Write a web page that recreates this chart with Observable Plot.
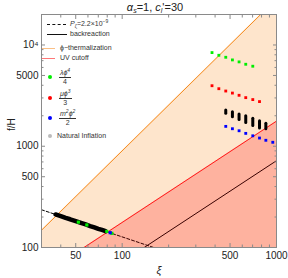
<!DOCTYPE html>
<html><head><meta charset="utf-8">
<script src="https://cdn.jsdelivr.net/npm/d3@7"></script>
<script src="https://cdn.jsdelivr.net/npm/@observablehq/plot@0.6"></script>
<style>
body{margin:0;background:#fff;font-family:"Liberation Sans",Arial,sans-serif;}
#wrap{position:relative;width:288px;height:278px;}
#title{position:absolute;top:1px;left:0;width:288px;text-align:center;padding-left:22px;box-sizing:border-box;font-size:11px;line-height:12px;color:#222;}
.lg{position:absolute;font-size:7px;color:#333;white-space:nowrap;line-height:8px;}
.up{position:relative;top:-3px;font-size:5px;line-height:0;}
.dn{position:relative;top:2px;font-size:5px;line-height:0;}
.frac{display:inline-flex;flex-direction:column;align-items:center;font-size:7px;line-height:8px;}
.frac .n{border-bottom:0.8px solid #333;padding:0 1px;font-style:italic;line-height:8px;}
.dot{position:absolute;width:4px;height:4px;border-radius:2px;}
.ln{position:absolute;height:0;}
</style></head>
<body><div id="wrap"></div>
<script>
// axis ticks
const xiTicks = [50, 100, 500, 1000];
const xiMinor = [30,40,60,70,80,90,200,300,400,600,700,800,900];
const fTicks = [100, 500, 1000, 5000, 10000];
const fMinor = [200,300,400,600,700,800,900,2000,3000,4000,6000,7000,8000,9000,20000];

// boundary lines [xi, f]
const thermalization = [[30, 148], [1000, 28500]];
const uvCutoff = [[30, 53], [1000, 1770]];
const backreaction = [[30, 21.6], [1000, 720]];
const powerSpectrum = [[30, 236], [160, 100]];

// model points
const quarticXi = [382, 423, 469, 518, 572, 632, 702];
const quarticF = [8410, 7910, 7560, 7120, 6810, 6450, 6170];
const cubicXi = [382, 423, 469, 518, 572, 632, 702, 776];
const cubicF = [3960, 3700, 3510, 3350, 3185, 3020, 2890, 2760];
const quadXi = [469, 518, 572, 632, 702, 776, 853, 946];
const quadF = [1571, 1489, 1422, 1340, 1268, 1205, 1145, 1094];
const brXi = [469, 518, 572, 632, 702, 776, 853];
const brLo = [2088, 1938, 1812, 1692, 1582, 1500, 1468];
const brHi = [2254, 2169, 2059, 1982, 1866, 1770, 1666];
// low-xi cluster along P_zeta line
const clusterXi = [37, 40, 43, 46, 50, 54, 58, 62, 66, 70, 74, 78];
const clusterF = [212, 204, 196, 190, 182, 175, 169, 163, 158, 153, 149, 145];
const clusterGreenXi = [52, 59, 79.5, 85.7];
const clusterGreenF = [178, 167, 144, 138];
const clusterBlueXi = [83.6];
const clusterBlueF = [140];

const zip = (a, b) => a.map((v, i) => ({x: v, y: b[i]}));
const bars = brXi.map((v, i) => ({x: v, y1: brLo[i], y2: brHi[i]}));
const seg = arr => arr.map(([x, y]) => ({x, y}));

const fmtY = d => d === 10000 ? "10\u2074" : String(d);
const frameCol = "#8a8a8a";

const plot = Plot.plot({
  width: 288, height: 278,
  marginLeft: 41, marginRight: 12, marginTop: 14, marginBottom: 31,
  style: {fontFamily: "Liberation Sans, Arial, sans-serif", fontSize: "10px", color: "#222", background: "transparent"},
  x: {type: "log", domain: [30, 1000]},
  y: {type: "log", domain: [100, 20000]},
  marks: [
    Plot.areaY(seg(thermalization), {x: "x", y1: 1, y2: "y", fill: "#fee5cc", clip: true}),
    Plot.line(seg(backreaction), {x: "x", y: "y", stroke: "black", strokeWidth: 1, clip: true}),
    Plot.line(seg(powerSpectrum), {x: "x", y: "y", stroke: "black", strokeWidth: 1, strokeDasharray: "3,2", clip: true}),
    Plot.areaY(seg(uvCutoff), {x: "x", y1: 1, y2: "y", fill: "red", fillOpacity: 0.22, clip: true}),
    Plot.line(seg(uvCutoff), {x: "x", y: "y", stroke: "#ff1a1a", strokeWidth: 1, clip: true}),
    Plot.line(seg(thermalization), {x: "x", y: "y", stroke: "#f58b1f", strokeWidth: 1, clip: true}),
    Plot.line(zip(clusterXi, clusterF), {x: "x", y: "y", stroke: "black", strokeWidth: 4.5, strokeLinecap: "round"}),
    Plot.dot(zip(clusterGreenXi, clusterGreenF), {x: "x", y: "y", r: 1.8, fill: "#00ee00", symbol: "square"}),
    Plot.dot(zip(clusterBlueXi, clusterBlueF), {x: "x", y: "y", r: 1.8, fill: "#0000ff", symbol: "square"}),
    Plot.dot(zip(quarticXi, quarticF), {x: "x", y: "y", r: 1.6, fill: "#00ee00", symbol: "square"}),
    Plot.dot(zip(cubicXi, cubicF), {x: "x", y: "y", r: 1.6, fill: "#ff0000", symbol: "square"}),
    Plot.dot(zip(quadXi, quadF), {x: "x", y: "y", r: 1.6, fill: "#0000ff", symbol: "square"}),
    Plot.ruleX(bars, {x: "x", y1: "y1", y2: "y2", stroke: "black", strokeWidth: 3, strokeLinecap: "round"}),
    Plot.frame({stroke: frameCol}),
    Plot.axisX({ticks: xiTicks, tickSize: 0, tickPadding: 4, tickFormat: d => String(d), label: null, anchor: "bottom"}),
    Plot.axisX({ticks: xiTicks, tickSize: -4, text: null, label: null, anchor: "bottom", stroke: frameCol}),
    Plot.axisX({ticks: xiMinor, tickSize: -2.5, text: null, label: null, anchor: "bottom", stroke: frameCol}),
    Plot.axisX({ticks: xiTicks, tickSize: -4, text: null, label: null, anchor: "top", stroke: frameCol}),
    Plot.axisX({ticks: xiMinor, tickSize: -2.5, text: null, label: null, anchor: "top", stroke: frameCol}),
    Plot.axisY({ticks: fTicks, tickSize: 0, tickPadding: 3, tickFormat: fmtY, label: null, anchor: "left"}),
    Plot.axisY({ticks: fTicks, tickSize: -4, text: null, label: null, anchor: "left", stroke: frameCol}),
    Plot.axisY({ticks: fMinor, tickSize: -2.5, text: null, label: null, anchor: "left", stroke: frameCol}),
    Plot.axisY({ticks: fTicks, tickSize: -4, text: null, label: null, anchor: "right", stroke: frameCol}),
    Plot.axisY({ticks: fMinor, tickSize: -2.5, text: null, label: null, anchor: "right", stroke: frameCol}),
    Plot.text(["ξ"], {frameAnchor: "bottom", dy: 26, fontStyle: "italic", fontSize: 11}),
    Plot.text(["f/H"], {frameAnchor: "left", dx: -30, rotate: -90, fontSize: 10})
  ]
});
const wrap = document.getElementById("wrap");
wrap.appendChild(plot);

wrap.insertAdjacentHTML("beforeend", `
<div id="title"><i>α</i><span class="dn" style="font-style:italic;font-size:7px">s</span>=1, <i>c</i><span class="dn" style="font-style:italic;font-size:7px">l</span>'=30</div>
<div class="ln" style="left:47px;top:24px;width:19px;border-top:1px dashed #111"></div>
<div class="lg" style="left:70px;top:20px"><i>P</i><span class="dn">ζ</span>=2.2×10<span class="up">−9</span></div>
<div class="ln" style="left:47px;top:34px;width:20px;border-top:1px solid #111"></div>
<div class="lg" style="left:70px;top:30px">backreaction</div>
<div class="ln" style="left:42px;top:48px;width:13px;border-top:1px solid #fbbf85"></div>
<div class="lg" style="left:60px;top:44px">ϕ−thermalization</div>
<div class="ln" style="left:42px;top:58px;width:13px;border-top:1px solid #ff7777"></div>
<div class="lg" style="left:60px;top:54px">UV cutoff</div>
<div class="dot" style="left:48px;top:75px;background:#00ee00"></div>
<div class="lg" style="left:59px;top:69px"><span class="frac"><span class="n">λϕ<span class="up">4</span></span><span>4</span></span></div>
<div class="dot" style="left:48px;top:96px;background:#ff0000"></div>
<div class="lg" style="left:59px;top:90px"><span class="frac"><span class="n">μϕ<span class="up">3</span></span><span>3</span></span></div>
<div class="dot" style="left:48px;top:116px;background:#0000ff"></div>
<div class="lg" style="left:59px;top:110px"><span class="frac"><span class="n">m<span class="up">2</span>ϕ<span class="up">2</span></span><span>2</span></span></div>
<div class="dot" style="left:48px;top:134px;background:#bbb"></div>
<div class="lg" style="left:57px;top:132px">Natural Inflation</div>
`);
</script></body></html>
